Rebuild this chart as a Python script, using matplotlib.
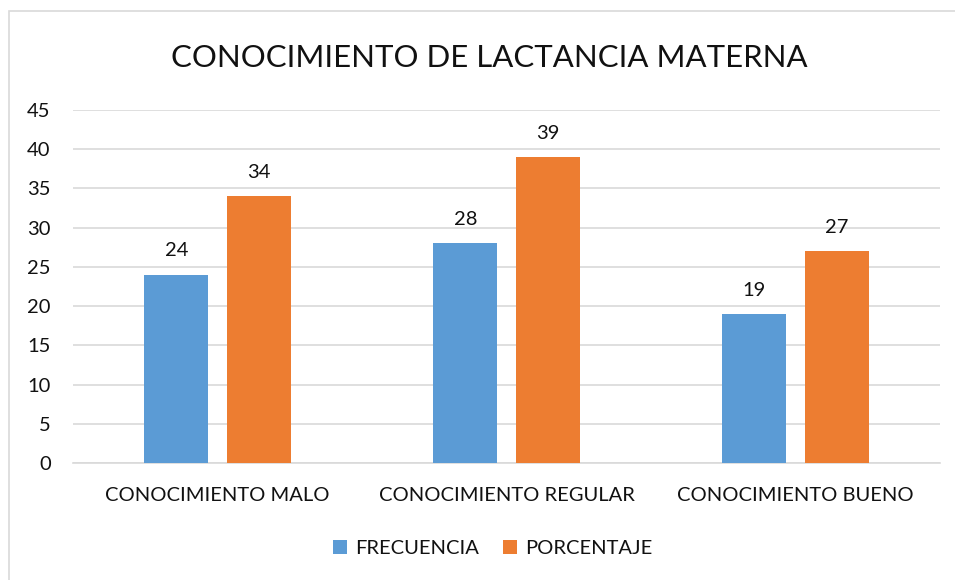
import numpy as np
import matplotlib.pyplot as plt
from matplotlib.patches import Rectangle

categories = ["CONOCIMIENTO MALO", "CONOCIMIENTO REGULAR", "CONOCIMIENTO BUENO"]
frecuencia = [24, 28, 19]
porcentaje = [34, 39, 27]

plt.rcParams['font.family'] = ['Lato', 'DejaVu Sans']
txt = '#111111'

fig = plt.figure(figsize=(9.55, 5.8), dpi=100)
ax = fig.add_axes([0.0764, 0.2017, 0.9079, 0.6086])

# chart border (cropped on right/bottom like the original)
fig.patches.append(Rectangle((9 / 955, -0.1), 1.2, 1 - 11 / 580 + 0.1,
                             transform=fig.transFigure, fill=False,
                             edgecolor='#d9d9d9', linewidth=1.2))

x = np.arange(len(categories))
w = 0.2215
off = 0.142
b1 = ax.bar(x - off, frecuencia, w, color='#5b9bd5', label='FRECUENCIA', zorder=3)
b2 = ax.bar(x + off, porcentaje, w, color='#ed7d31', label='PORCENTAJE', zorder=3)
for bars in (b1, b2):
    ax.bar_label(bars, padding=11, fontsize=14.5, color=txt)

ax.set_xlim(-0.5, 2.5)
ax.set_ylim(0, 45)
ax.set_yticks(range(0, 46, 5))
ax.set_xticks(x)
ax.set_xticklabels(categories)
ax.tick_params(axis='both', length=0, labelsize=14.5, colors=txt)
ax.tick_params(axis='x', pad=17)
ax.tick_params(axis='y', pad=16)
ax.grid(axis='y', color='#d9d9d9', linewidth=1.2, zorder=0)
for s in ['top', 'right', 'left']:
    ax.spines[s].set_visible(False)
ax.spines['bottom'].set_color('#d9d9d9')
ax.spines['bottom'].set_linewidth(1.2)

fig.text(0.512, 0.9, "CONOCIMIENTO DE LACTANCIA MATERNA", ha='center', va='center',
         fontsize=22.4, color=txt)

fig.legend(loc='center', bbox_to_anchor=(0.516, 0.055), ncol=2, frameon=False,
           fontsize=14.5, handlelength=0.7, handleheight=0.7, columnspacing=1.2,
           handletextpad=0.4, labelcolor=txt)

fig.savefig('out.png', dpi=100)
